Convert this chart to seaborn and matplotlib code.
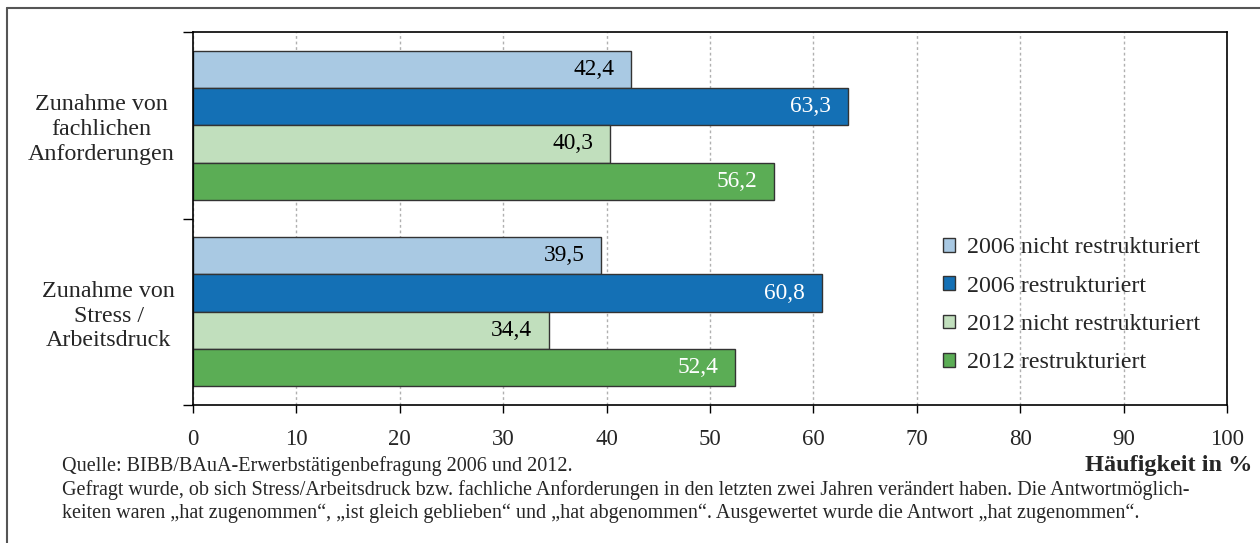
import pandas as pd
import matplotlib.pyplot as plt
import seaborn as sns
from matplotlib.lines import Line2D
from matplotlib.patches import Patch

kategorien = ["Zunahme von\nfachlichen\nAnforderungen", "Zunahme von\nStress /\nArbeitsdruck"]
gruppen = ["2006 nicht restrukturiert", "2006 restrukturiert",
           "2012 nicht restrukturiert", "2012 restrukturiert"]
werte_2006_nicht = [42.4, 39.5]
werte_2006_restr = [63.3, 60.8]
werte_2012_nicht = [40.3, 34.4]
werte_2012_restr = [56.2, 52.4]
farben = ["#A9C9E3", "#1470B5", "#C1DFBD", "#5BAD55"]
textfarben = ["black", "white", "black", "white"]

x_ticks = list(range(0, 101, 10))

quelle = "Quelle: BIBB/BAuA-Erwerbstätigenbefragung 2006 und 2012."
hinweis = ("Gefragt wurde, ob sich Stress/Arbeitsdruck bzw. fachliche Anforderungen in den letzten zwei Jahren verändert haben. Die Antwortmöglich-\n"
           "keiten waren \u201ehat zugenommen\u201c, \u201eist gleich geblieben\u201c und \u201ehat abgenommen\u201c. Ausgewertet wurde die Antwort \u201ehat zugenommen\u201c.")

tabelle = pd.DataFrame({
    "kategorie": kategorien * 4,
    "gruppe": [g for g in gruppen for _ in kategorien],
    "wert": werte_2006_nicht + werte_2006_restr + werte_2012_nicht + werte_2012_restr,
})

sns.set_style("white")
plt.rcParams["font.family"] = ["Liberation Serif", "DejaVu Serif"]

fig = plt.figure(figsize=(12.6, 5.43), dpi=100)
ax = fig.add_axes([193 / 1260, 1 - 405 / 543, 1034 / 1260, 373 / 543])

ax.set_axisbelow(True)
ax.grid(axis="x", color="#b0b0b0", linestyle=(0, (2, 2)), linewidth=1)

sns.barplot(data=tabelle, x="wert", y="kategorie", hue="gruppe", orient="h",
            palette=farben, hue_order=gruppen, order=kategorien, width=0.8,
            saturation=1, edgecolor="#333333", linewidth=1, ax=ax, legend=False)

for container, tf in zip(ax.containers, textfarben):
    labels = [f"{b.get_width():.1f}".replace(".", ",") for b in container]
    texte = ax.bar_label(container, labels=labels, padding=-12, color=tf, fontsize=16.8)
    for t in texte:
        t.set_ha("right")

ax.set_xlim(0, 100)
ax.set_ylim(1.5, -0.5)
ax.set_xticks(x_ticks)
ax.set_xlabel("")
ax.set_ylabel("")
ax.tick_params(axis="x", direction="out", length=6, width=1, color="black",
               labelsize=16.5, pad=11, bottom=True)
ax.tick_params(axis="y", which="major", length=0, labelsize=17.3, pad=13)
ax.set_yticks([-0.5, 0.5, 1.5], minor=True)
ax.tick_params(axis="y", which="minor", direction="out", length=7, width=1,
               color="black", left=True)
for lab in ax.get_yticklabels():
    lab.set_multialignment("center")
    lab.set_linespacing(1.22)

for s in ax.spines.values():
    s.set_color("black")
    s.set_linewidth(1.2)

handles = [Patch(facecolor=f, edgecolor="#333333", linewidth=1) for f in farben]
ax.legend(handles, gruppen, loc="center left", bbox_to_anchor=(0.704, 0.267),
          frameon=False, fontsize=17.3, handlelength=0.5, handleheight=0.5,
          handletextpad=0.5, labelspacing=0.72)

fig.text(1252 / 1260, 1 - 465 / 543, "Häufigkeit in %", ha="right", va="center",
         fontsize=17.5, fontweight="bold")
fig.text(62 / 1260, 1 - 466 / 543, quelle, ha="left", va="center", fontsize=14.5)
fig.text(62 / 1260, 1 - 502 / 543, hinweis, ha="left", va="center", fontsize=14.5,
         linespacing=1.25)

# Rahmen um die Grafik
fig.add_artist(Line2D([7 / 1260, 7 / 1260], [0, 1 - 8 / 543], color="#555555", lw=1.5))
fig.add_artist(Line2D([7 / 1260, 1], [1 - 8 / 543, 1 - 8 / 543], color="#555555", lw=1.5))

fig.savefig("out.png", dpi=100)
